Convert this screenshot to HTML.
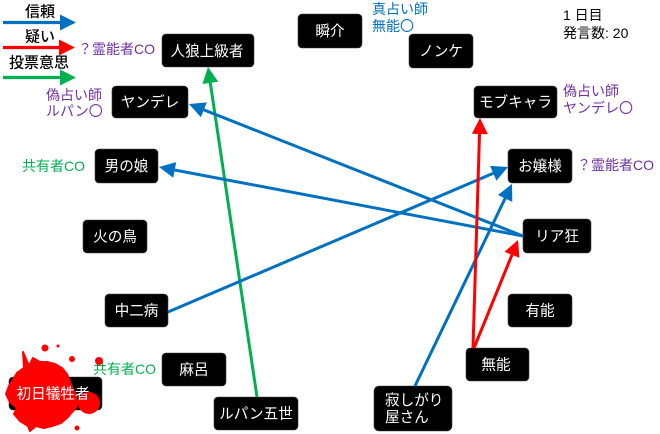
<!DOCTYPE html>
<html><head><meta charset="utf-8"><style>
html,body{margin:0;padding:0;background:#fff;}
svg{display:block;}
text{font-family:"Liberation Sans","Noto Sans CJK JP",sans-serif;font-size:14px;}
.w{fill:#fff;text-anchor:middle;font-size:14.6px;}
.k{fill:#000;}
.lg{font-size:15px;font-weight:500;}
.p{fill:#7030A0;}
.b{fill:#0070C0;}
.g{fill:#00B050;}
</style></head><body>
<svg width="660" height="434" viewBox="0 0 660 434" xmlns="http://www.w3.org/2000/svg">
<rect width="660" height="434" fill="#fff"/>
<!-- legend -->
<text class="k lg" x="25" y="16.5">信頼</text>
<line x1="3" y1="22.5" x2="61" y2="22.5" stroke="#0070C0" stroke-width="3.2"/>
<polygon points="76,22.5 60,14.5 60,30.5" fill="#0070C0"/>
<text class="k lg" x="25" y="41.5">疑い</text>
<line x1="3" y1="47.5" x2="60" y2="47.5" stroke="#FF0000" stroke-width="3.2"/>
<polygon points="75,47.5 59,39.5 59,55.5" fill="#FF0000"/>
<text class="k lg" x="9" y="67.5">投票意思</text>
<line x1="3" y1="77.5" x2="61" y2="77.5" stroke="#00B050" stroke-width="3.2"/>
<polygon points="76,77.5 60,69.5 60,85.5" fill="#00B050"/>

<!-- notes -->
<text class="p" x="78" y="54">？霊能者CO</text>
<text class="p" x="46" y="100">偽占い師</text>
<text class="p" x="46" y="116">ルパン〇</text>
<text class="b" x="372" y="14">真占い師</text>
<text class="b" x="372" y="31">無能〇</text>
<text class="k" x="563" y="20">1 日目</text>
<text class="k" x="563" y="38">発言数: 20</text>
<text class="p" x="563" y="96">偽占い師</text>
<text class="p" x="563" y="113">ヤンデレ〇</text>
<text class="g" x="22" y="171">共有者CO</text>
<text class="p" x="577" y="170">？霊能者CO</text>
<text class="g" x="93" y="374">共有者CO</text>

<!-- nodes -->
<g fill="#000" stroke="#444" stroke-width="0.6">
<rect x="162" y="34" width="92" height="33" rx="4"/>
<rect x="112" y="86" width="76" height="32" rx="4"/>
<rect x="298" y="14" width="64" height="34" rx="4"/>
<rect x="409" y="34" width="64" height="34" rx="4"/>
<rect x="474" y="86" width="83" height="32" rx="4"/>
<rect x="95" y="149" width="63" height="34" rx="4"/>
<rect x="508" y="149" width="64" height="34" rx="4"/>
<rect x="83" y="220" width="64" height="33" rx="4"/>
<rect x="523" y="219" width="68" height="34" rx="4"/>
<rect x="105" y="294" width="63" height="33" rx="4"/>
<rect x="508" y="294" width="64" height="33" rx="4"/>
<rect x="162" y="353" width="64" height="33" rx="4"/>
<rect x="466" y="348" width="63" height="33" rx="4"/>
<rect x="9" y="377" width="93" height="33" rx="4"/>
<rect x="214" y="397" width="84" height="33" rx="4"/>
<rect x="374" y="386" width="78" height="45" rx="5"/>
</g>

<!-- blood splatter -->
<g fill="#FF0000">
<path d="M23,352 L29,366 L33,358 L40,362 L47,362 L55,364 L62,368 L67,374 L70,382 L73,390 L76,396 L78,404 L74,410 L67,418 L61,423 L52,426 L44,428 L36,426 L30,431 L28,426 L20,421 L14,414 L17,408 L10,402 L6,394 L9,386 L13,380 L17,373 L24,368 Z" stroke="#FF0000" stroke-width="2" stroke-linejoin="round"/>
<circle cx="89" cy="403" r="11"/>
<circle cx="45" cy="348" r="3.5"/>
<circle cx="58" cy="346" r="1.5"/>
<circle cx="72" cy="359" r="3"/>
<circle cx="99" cy="361" r="4"/>
<circle cx="77" cy="428" r="2.5"/>
</g>

<!-- node labels -->
<text class="w" x="207" y="56">人狼上級者</text>
<text class="w" x="150" y="107">ヤンデレ</text>
<text class="w" x="330" y="36">瞬介</text>
<text class="w" x="441" y="56">ノンケ</text>
<text class="w" x="515.5" y="107">モブキャラ</text>
<text class="w" x="126.5" y="171">男の娘</text>
<text class="w" x="540" y="171">お嬢様</text>
<text class="w" x="115" y="241.5">火の鳥</text>
<text class="w" x="557" y="241">リア狂</text>
<text class="w" x="136.5" y="315.5">中二病</text>
<text class="w" x="540" y="315.5">有能</text>
<text class="w" x="194" y="374.5">麻呂</text>
<text class="w" x="496" y="369.5">無能</text>
<text class="w" x="53" y="398.5">初日犠牲者</text>
<text class="w" x="256" y="418.5">ルパン五世</text>
<text fill="#fff" x="385" y="405" style="font-size:14.6px">寂しがり</text>
<text fill="#fff" x="385" y="422" style="font-size:14.6px">屋さん</text>

<!-- connectors -->
<g stroke-width="3" fill="none">
<line x1="257" y1="397" x2="210.3" y2="82.8" stroke="#00B050"/>
<line x1="523" y1="236" x2="203.9" y2="109.9" stroke="#0070C0"/>
<line x1="523" y1="236" x2="174.7" y2="170" stroke="#0070C0"/>
<line x1="168" y1="312" x2="493.3" y2="173.3" stroke="#0070C0"/>
<line x1="415" y1="386" x2="505.1" y2="198.4" stroke="#0070C0"/>
<line x1="473" y1="348" x2="479.5" y2="134" stroke="#FF0000"/>
<line x1="474" y1="348" x2="512" y2="254.8" stroke="#FF0000"/>
</g>
<polygon points="208,67 202.4,84 218.3,81.7" fill="#00B050"/>
<polygon points="189,104 206.8,102.4 200.9,117.3" fill="#0070C0"/>
<polygon points="159,167 176.2,162.1 173.2,177.8" fill="#0070C0"/>
<polygon points="508,167 496.4,180.6 490.1,165.9" fill="#0070C0"/>
<polygon points="512,184 512.3,201.9 497.9,195" fill="#0070C0"/>
<polygon points="480,118 487.9,134.3 471.9,133.7" fill="#FF0000"/>
<polygon points="518,240 519.4,257.8 504.6,251.8" fill="#FF0000"/>
</svg>
</body></html>
